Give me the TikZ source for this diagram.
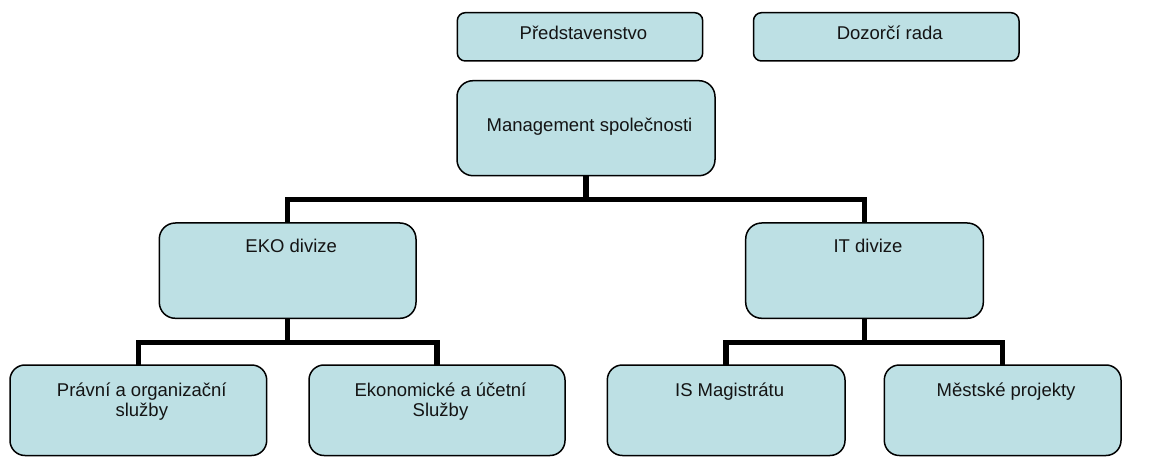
\documentclass[tikz,border=0pt]{standalone}
\usepackage{fontspec}
\setmainfont{Liberation Sans}
\definecolor{boxfill}{RGB}{189,224,228}
\definecolor{txt}{RGB}{20,20,20}
\begin{document}
\begin{tikzpicture}[x=1pt,y=-1pt,
  orgbox/.style={draw=black, line width=1.5pt, fill=boxfill, inner sep=0pt, outer sep=0pt},
  lbl/.style={anchor=base, inner sep=0pt, text=txt, font=\fontsize{18.5}{20.7}\selectfont},
  conn/.style={draw=black, line width=5.5pt, line join=miter}]
\useasboundingbox (0,0) rectangle (1163,457);
% boxes
\node[orgbox, rounded corners=8pt, minimum width=245.4pt, minimum height=48.3pt] (pred) at (580,36.85) {};
\node[orgbox, rounded corners=8pt, minimum width=265.5pt, minimum height=48.3pt] (doz) at (886.25,36.85) {};
\node[orgbox, rounded corners=16pt, minimum width=258pt, minimum height=95pt] (mgmt) at (586,128.2) {};
\node[orgbox, rounded corners=16pt, minimum width=256.7pt, minimum height=95.3pt] (eko) at (287.65,270.65) {};
\node[orgbox, rounded corners=16pt, minimum width=237.6pt, minimum height=95.3pt] (it) at (864.5,270.65) {};
\node[orgbox, rounded corners=15pt, minimum width=256.7pt, minimum height=90.5pt] (pravni) at (138.35,410.25) {};
\node[orgbox, rounded corners=15pt, minimum width=256pt, minimum height=90.5pt] (ekon) at (437,410.25) {};
\node[orgbox, rounded corners=15pt, minimum width=237.7pt, minimum height=90.5pt] (is) at (726.15,410.25) {};
\node[orgbox, rounded corners=15pt, minimum width=236.7pt, minimum height=90.5pt] (mest) at (1002.65,410.25) {};
% texts
\node[lbl] (tpred) at (583.5,39.3) {Představenstvo};
\node[lbl] (tdoz) at (889.75,39.3) {Dozorčí rada};
\node[lbl] (tmgmt) at (589.5,131.7) {Management společnosti};
\node[lbl] (teko) at (291.2,252.7) {EKO divize};
\node[lbl] (tit) at (868,252.7) {IT divize};
\node[lbl] (tpravni) at (141.8,396) {\begin{tabular}[t]{@{}c@{}}Právní a organizační\\služby\end{tabular}};
\node[lbl] (tekon) at (440.5,396) {\begin{tabular}[t]{@{}c@{}}Ekonomické a účetní\\Služby\end{tabular}};
\node[lbl] (tis) at (729.6,396) {IS Magistrátu};
\node[lbl] (tmest) at (1006.1,396) {Městské projekty};
% junctions
\coordinate (j1) at (586,199.7);
\coordinate (j2) at (287.65,342.7);
\coordinate (j3) at (864.5,342.7);
% connectors
\draw[conn] (mgmt.south) -- (j1);
\draw[conn] (eko.north) |- (j1) -| (it.north);
\draw[conn] (eko.south) -- (j2);
\draw[conn] (pravni.north) |- (j2) -| (ekon.north);
\draw[conn] (it.south) -- (j3);
\draw[conn] (is.north) |- (j3) -| (mest.north);
\end{tikzpicture}
\end{document}
